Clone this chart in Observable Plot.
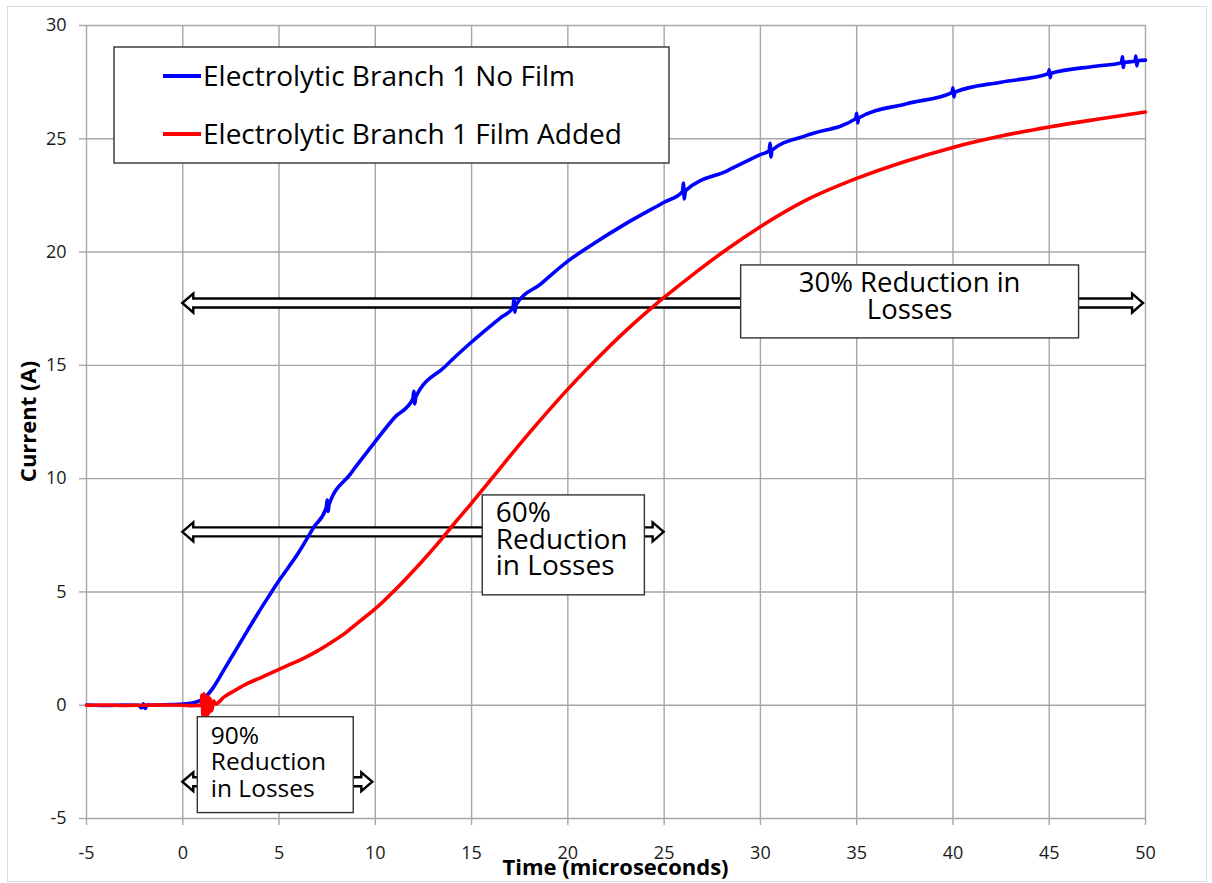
<!DOCTYPE html>
<html><head><meta charset="utf-8">
<script src="https://cdn.jsdelivr.net/npm/d3@7"></script>
<script src="https://cdn.jsdelivr.net/npm/@observablehq/plot@0.6"></script>
<style>
body{margin:0;background:#fff;}
#wrap{position:relative;width:1212px;height:883px;overflow:hidden}
#frame{position:absolute;left:7px;top:6px;width:1200px;height:876px;border:1px solid #d9d9d9;box-sizing:border-box}
#chart{position:absolute;left:0;top:0}
</style></head><body>
<div id="wrap"><div id="frame"></div><div id="chart"></div></div>
<script>
// ---- data ----
const xTicks = [-5, 0, 5, 10, 15, 20, 25, 30, 35, 40, 45, 50];
const yTicks = [-5, 0, 5, 10, 15, 20, 25, 30];
const seriesNames = ["Electrolytic Branch 1 No Film", "Electrolytic Branch 1 Film Added"];
const seriesColors = ["#0000ff", "#ff0000"];
const xTitle = "Time (microseconds)";
const yTitle = "Current (A)";

// [time (µs), current (A)]
const noFilmPoints = [
  [-5, 0.01], [-4, -0.01], [-3, 0.01], [-2.3, 0], [-2.15, -0.12], [-2.05, 0.06], [-1.95, -0.14], [-1.85, 0.02],
  [-1.6, 0], [-1, 0.02], [0, 0.05], [0.5, 0.1], [0.9, 0.2], [1.1, 0.3], [1.6, 0.8], [2.2, 1.65], [2.8, 2.5],
  [3.4, 3.35], [3.9, 4.05], [4.5, 4.85], [5.0, 5.5], [5.5, 6.1], [6.0, 6.72], [6.8, 7.85],
  [7.45, 8.72], [7.5, 9.05], [7.55, 8.55], [7.6, 8.86], [8.7, 10.2], [9.8, 11.42], [11.0, 12.7],
  [11.95, 13.52], [12.0, 13.85], [12.05, 13.3], [12.1, 13.6], [13.6, 14.93], [15.0, 16.03], [16.5, 17.1],
  [17.15, 17.55], [17.2, 17.95], [17.25, 17.35], [17.3, 17.66], [18.6, 18.6], [20.0, 19.6], [21.35, 20.38],
  [23.1, 21.3], [25.0, 22.2], [25.95, 22.66], [26.0, 23.05], [26.05, 22.35], [26.1, 22.7], [28.3, 23.6],
  [30.0, 24.3], [30.45, 24.47], [30.5, 24.8], [30.55, 24.2], [30.6, 24.5], [32.4, 25.15],
  [34.95, 25.89], [35.0, 26.12], [35.05, 25.7], [35.1, 25.92], [37.6, 26.55],
  [39.95, 27.04], [40.0, 27.25], [40.05, 26.85], [40.1, 27.06], [42.5, 27.5],
  [44.95, 27.87], [45.0, 28.05], [45.05, 27.7], [45.1, 27.89], [47.4, 28.2],
  [48.75, 28.36], [48.8, 28.62], [48.85, 28.15], [48.9, 28.37], [49.45, 28.42], [49.5, 28.65], [49.55, 28.22],
  [49.6, 28.44], [50, 28.47]
];
const filmPoints = [
  [-5, 0], [-4, 0.01], [-3, -0.01], [-2, 0], [-1, 0.01], [0, 0], [0.5, -0.02], [0.95, 0], [1.0, 0.45],
  [1.05, -0.5], [1.1, 0.5], [1.15, -0.45], [1.2, 0.35], [1.25, -0.6], [1.3, 0.4], [1.35, -0.35], [1.4, 0.3],
  [1.5, -0.25], [1.6, 0.2], [1.7, 0.05], [2.15, 0.37], [2.7, 0.65], [3.36, 0.96], [4.0, 1.2], [4.57, 1.42],
  [5.4, 1.74], [6.3, 2.08], [7.0, 2.4], [7.69, 2.76], [8.4, 3.16], [9.07, 3.62], [10.0, 4.26], [10.8, 4.9],
  [11.52, 5.52], [12.4, 6.32], [13.25, 7.14], [14.1, 8.02], [14.98, 8.9], [15.8, 9.75], [16.71, 10.7],
  [17.9, 11.92], [19.0, 13.0], [20.0, 13.95], [21.35, 15.15], [23.1, 16.6], [24.5, 17.65], [25.0, 18.0],
  [26.56, 19.05], [28.3, 20.15], [30.0, 21.12], [32.4, 22.3], [35.0, 23.25], [37.6, 24.02], [40.0, 24.62],
  [42.5, 25.12], [45.0, 25.52], [47.4, 25.85], [50, 26.18]
];

// double-headed "reduction" arrows: start time, end time, current level
const arrowStart = [0, 0, 0];
const arrowEnd = [49.9, 25.0, 9.87];
const arrowLevel = [17.73, 7.63, -3.4];
// annotation boxes (data units) and their texts
const boxLabels = [["30% Reduction in", "Losses"], ["60%", "Reduction", "in Losses"], ["90%", "Reduction", "in Losses"]];
const boxX1 = [29.0, 15.58, 0.78];
const boxX2 = [46.55, 24.0, 8.88];
const boxYTop = [19.41, 9.26, -0.53];
const boxYBottom = [16.19, 4.85, -4.76];

// ---- build ----
const noFilm = noFilmPoints.map(([t, v]) => ({t, v}));
const film = filmPoints.map(([t, v]) => ({t, v}));
const gridColor = "#a6a6a6";
const font = "'Open Sans', sans-serif";

const plot = Plot.plot({
  width: 1212, height: 883,
  marginLeft: 86, marginRight: 67, marginTop: 25, marginBottom: 65,
  style: {fontFamily: font, fontSize: "18px", color: "#1a1a1a", background: "transparent"},
  x: {domain: [-5, 50]},
  y: {domain: [-5, 30]},
  marks: [
    Plot.gridX(xTicks, {stroke: gridColor, strokeOpacity: 1, strokeWidth: 1.4}),
    Plot.gridY(yTicks, {stroke: gridColor, strokeOpacity: 1, strokeWidth: 1.4}),
    Plot.axisX(xTicks, {tickSize: 7, tickPadding: 21, stroke: gridColor, strokeWidth: 1.4, fill: "#1a1a1a", fontSize: 18, label: null, tickFormat: d => String(d)}),
    Plot.axisY(yTicks, {tickSize: 7, tickPadding: 13, stroke: gridColor, strokeWidth: 1.4, fill: "#1a1a1a", fontSize: 18, label: null, tickFormat: d => String(d)}),
    Plot.line(noFilm, {x: "t", y: "v", stroke: seriesColors[0], strokeWidth: 3.6, strokeLinejoin: "round", curve: "monotone-x"}),
    Plot.line(film, {x: "t", y: "v", stroke: seriesColors[1], strokeWidth: 3.6, strokeLinejoin: "round", curve: "monotone-x"})
  ]
});
document.getElementById("chart").appendChild(plot);

const svg = d3.select(plot);
// force tick label size on every text Plot drew (only tick labels at this point)
svg.selectAll("g").filter(function() { return this.querySelector(":scope > text"); })
  .attr("font-size", 18).style("font-size", "18px");
svg.selectAll("text").attr("font-size", 18).style("font-size", "18px").style("font-family", font);

const sx = plot.scale("x"), sy = plot.scale("y");
const X = v => sx.apply(v), Y = v => sy.apply(v);

// arrows below the series lines
const firstLine = plot.querySelector('g[aria-label="line"]');
const arrowG = document.createElementNS("http://www.w3.org/2000/svg", "g");
plot.insertBefore(arrowG, firstLine);
const hl = 11, hh = 9.5, sh = 4.5;
d3.select(arrowG).selectAll("path").data(arrowLevel).join("path")
  .attr("d", (lv, i) => {
    const x0 = X(arrowStart[i]), x1 = X(arrowEnd[i]), y = Y(lv);
    return `M${x0},${y}L${x0+hl},${y-hh}L${x0+hl},${y-sh}L${x1-hl},${y-sh}L${x1-hl},${y-hh}L${x1},${y}` +
      `L${x1-hl},${y+hh}L${x1-hl},${y+sh}L${x0+hl},${y+sh}L${x0+hl},${y+hh}Z`;
  })
  .attr("fill", "#fff").attr("stroke", "#000").attr("stroke-width", 2.4).attr("stroke-linejoin", "miter");

// annotation boxes on top
const boxSizes = [27.5, 28, 24.5];
const boxG = svg.append("g").attr("font-family", font).attr("fill", "#000");
boxLabels.forEach((lines, i) => {
  const x1 = X(boxX1[i]), x2 = X(boxX2[i]), y1 = Y(boxYTop[i]), y2 = Y(boxYBottom[i]);
  boxG.append("rect").attr("x", x1).attr("y", y1).attr("width", x2 - x1).attr("height", y2 - y1)
    .attr("fill", "#fff").attr("stroke", "#333").attr("stroke-width", 1.4);
  const centered = i === 0;
  const t = boxG.append("text").attr("font-size", boxSizes[i])
    .attr("text-anchor", centered ? "middle" : "start");
  lines.forEach((s, k) => {
    t.append("tspan").attr("x", centered ? (x1 + x2) / 2 : x1 + 13.5)
      .attr("y", y1 + 27 + k * 26.6).text(s);
  });
});

// legend
const lg = svg.append("g").attr("font-family", font).attr("text-anchor", "start");
lg.append("rect").attr("x", 114).attr("y", 47).attr("width", 555).attr("height", 116)
  .attr("fill", "#fff").attr("stroke", "#333").attr("stroke-width", 1.4);
seriesNames.forEach((name, i) => {
  const cy = 76 + i * 58;
  lg.append("line").attr("x1", 163).attr("x2", 201).attr("y1", cy).attr("y2", cy)
    .attr("stroke", seriesColors[i]).attr("stroke-width", 4);
  lg.append("text").attr("x", 203).attr("y", cy + 10).attr("font-size", 28).attr("fill", "#000")
    .attr("text-anchor", "start").text(name);
});

// axis titles
svg.append("text").attr("x", (X(-5) + X(50)) / 2).attr("y", 875).attr("text-anchor", "middle")
  .attr("font-family", font).attr("font-weight", "bold").attr("font-size", 22).attr("fill", "#000").text(xTitle);
svg.append("text").attr("transform", `translate(36,${(Y(-5) + Y(30)) / 2}) rotate(-90)`).attr("text-anchor", "middle")
  .attr("font-family", font).attr("font-weight", "bold").attr("font-size", 22).attr("fill", "#000").text(yTitle);
</script>
</body></html>
